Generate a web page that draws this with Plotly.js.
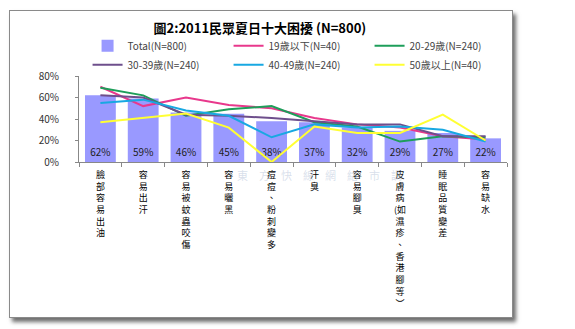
<!DOCTYPE html>
<html>
<head>
<meta charset="utf-8">
<script src="https://cdn.plot.ly/plotly-3.0.1.min.js"></script>
<style>
html,body{margin:0;padding:0;background:#ffffff;}
#frame{position:absolute;left:9px;top:10px;width:502px;height:306px;border:1px solid #8a8a8a;background:#fff;box-shadow:3px 4px 4px #6f6f6f;}
#chart{position:absolute;left:0;top:0;width:575px;height:329px;}
</style>
</head>
<body>
<div id="frame"></div>
<div id="chart"></div>
<script>
const categories = ['臉部容易出油','容易出汗','容易被蚊蟲咬傷','容易曬黑','痘痘、粉刺變多','汗臭','容易腳臭','皮膚病(如濕疹、香港腳等)','睡眠品質變差','容易缺水'];
const total   = [62, 59, 46, 45, 38, 37, 32, 29, 27, 22];
const age19   = [70, 52, 60, 53, 50, 41, 35, 32, 24, 21];
const age20   = [69, 62, 43, 49, 52, 37, 33, 19, 24, 23];
const age30   = [62, 60, 44, 43, 41, 38, 35, 35, 24, 24];
const age40   = [55, 58, 48, 43, 23, 35, 32, 33, 30, 19];
const age50   = [37, 41, 45, 32, 0, 33, 27, 27, 44, 20];
const seriesNames = ['Total(N=800)','19歲以下(N=40)','20-29歲(N=240)','30-39歲(N=240)','40-49歲(N=240)','50歲以上(N=40)'];
const yTickVals = [0, 20, 40, 60, 80];
const yTickText = ['0%','20%','40%','60%','80%'];

function vertical(s){
  const chars = Array.from(s);
  const lines = [];
  for (let i = 0; i < chars.length; i++){
    let c = chars[i];
    if (c === '(') { lines.push('(' + chars[i+1]); i++; continue; }
    if (c === ')') c = '︶';
    lines.push(c);
  }
  return lines.join('<br>');
}
const tickText = categories.map(vertical);

const F = '"Noto Sans CJK TC", "Noto Sans", sans-serif';
const lineColors = ['#E8388C', '#1E9E5A', '#6E4F8C', '#18A8E2', '#FFFF33'];
const lineData = [age19, age20, age30, age40, age50];

const traces = [{
  type: 'bar', x: categories, y: total, name: seriesNames[0],
  marker: {color: '#9999FF'},
  text: total.map(v => v + '%'), textposition: 'inside', insidetextanchor: 'start',
  textfont: {family: F, size: 10, color: '#222'}, constraintext: 'none',
  hoverinfo: 'skip'
}];
lineData.forEach((d, i) => {
  traces.push({
    type: 'scatter', mode: 'lines', x: categories, y: d, name: seriesNames[i+1],
    line: {color: lineColors[i], width: 2}, hoverinfo: 'skip'
  });
});

const layout = {
  width: 575, height: 329,
  margin: {l: 79, r: 68, t: 76, b: 167, autoexpand: false},
  paper_bgcolor: 'rgba(0,0,0,0)', plot_bgcolor: '#ffffff',
  showlegend: true,
  bargap: 0.28,
  font: {family: F, size: 10, color: '#333'},
  title: {text: '<b>圖2:2011民眾夏日十大困擾 (N=800)</b>', font: {family: F, size: 13, color: '#000'},
          x: 0.452, xref: 'container', xanchor: 'center', y: 0.915, yref: 'container', yanchor: 'middle'},
  legend: {orientation: 'h', x: 0.02, xanchor: 'left', y: 1.52, yanchor: 'top',
           entrywidth: 96, entrywidthmode: 'pixels', traceorder: 'normal',
           font: {family: F, size: 10, color: '#444'}, itemwidth: 30, tracegroupgap: 0,
           bgcolor: 'rgba(0,0,0,0)'},
  xaxis: {type: 'category', tickmode: 'array', tickvals: categories, ticktext: tickText, tickangle: 0,
          showline: true, linecolor: '#888', linewidth: 1, ticks: 'outside', ticklen: 4, tickcolor: '#888',
          tickson: 'boundaries', showgrid: false, zeroline: false, ticklabelstandoff: 4,
          tickfont: {family: F, size: 9, color: '#000'}, fixedrange: true},
  yaxis: {range: [0, 80], tickmode: 'array', tickvals: yTickVals, ticktext: yTickText,
          showline: true, linecolor: '#888', linewidth: 1, ticks: 'outside', ticklen: 3, tickcolor: '#888',
          ticklabelstandoff: 14, showgrid: false, zeroline: false,
          tickfont: {family: F, size: 10, color: '#333'}, fixedrange: true},
  annotations: [{
    text: '東　方　快　線　網　絡　市　調', xref: 'paper', yref: 'paper', x: 0.561, y: -0.151,
    xanchor: 'center', yanchor: 'middle', showarrow: false,
    font: {family: F, size: 11, color: 'rgba(170,185,210,0.45)'}
  }]
};

Plotly.newPlot('chart', traces, layout, {staticPlot: true, displayModeBar: false});
</script>
</body>
</html>
